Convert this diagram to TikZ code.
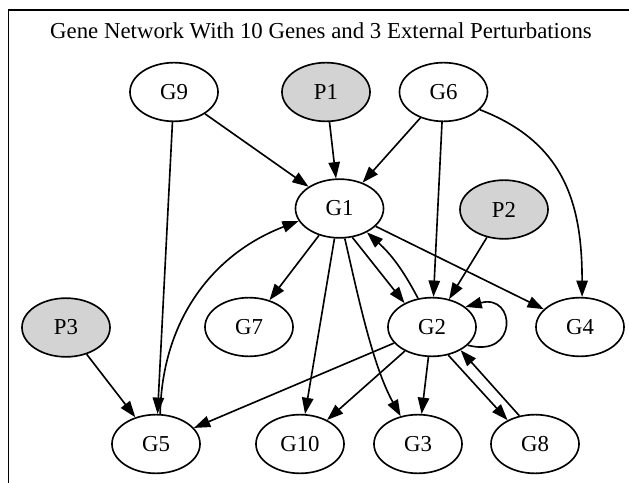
\documentclass[tikz,border=0pt]{standalone}
\usepackage{fontspec}
\setmainfont{Liberation Serif}
\usetikzlibrary{shapes.geometric,arrows.meta}
\definecolor{pgray}{HTML}{D3D3D3}
\begin{document}
\begin{tikzpicture}[x=0.6135pt,y=-0.6135pt,
  gene/.style={ellipse,draw,line width=1pt,minimum width=54pt,minimum height=36pt,inner sep=0pt,font=\fontsize{14pt}{16pt}\selectfont},
  pert/.style={gene,fill=pgray},
  arr/.style={-{Triangle[length=10pt,width=7pt]},line width=1pt},
  titlestyle/.style={font=\fontsize{14pt}{16pt}\selectfont,inner sep=0pt}]
\useasboundingbox (0,0) rectangle (629,483);
\draw[line width=1.2pt] (8.5,483) -- (8.5,10) -- (629,10);
\node[titlestyle] (title) at (321,31) {Gene Network With 10 Genes and 3 External Perturbations};
% nodes
\node[gene] (G9) at (174,92) {G9};
\node[pert] (P1) at (326,92) {P1};
\node[gene] (G6) at (443.5,92) {G6};
\node[gene] (G1) at (339.5,208.5) {G1};
\node[pert] (P2) at (504,209.5) {P2};
\node[pert] (P3) at (66,327.5) {P3};
\node[gene] (G7) at (249,327) {G7};
\node[gene] (G2) at (432,327) {G2};
\node[gene] (G4) at (580,327) {G4};
\node[gene] (G5) at (156,444) {G5};
\node[gene] (G10) at (300,444) {G10};
\node[gene] (G3) at (418,444) {G3};
\node[gene] (G8) at (535,444) {G8};
% edges
\draw[arr] (G9) -- (G1);
\draw[arr] (P1) -- (G1);
\draw[arr] (G6) -- (G1);
\draw[arr] (G9) -- (G5);
\draw[arr] (G5.82) to[out=89,in=201] (G1.197);
\draw[arr] (G6) -- (G2);
\draw[arr] (G6.-26) to[out=-21,in=90,looseness=1.1] (G4.86);
\draw[arr] (P2) -- (G2);
\draw[arr] (G1) -- (G7);
\draw[arr] (G1) -- (G10);
\draw[arr] (G1.280) to[out=283,in=119,looseness=0.8] (G3.122);
\draw[arr] (G1.-66) -- (G2.139);
\draw[arr] (G2.116) to[bend right=10] (G1.-41);
\draw[arr] (G1) -- (G4);
\draw[arr] (G2.-27) to[out=-15,in=15,looseness=3.5] (G2.31);
\draw[arr] (G2) -- (G5);
\draw[arr] (G2) -- (G10);
\draw[arr] (G2) -- (G3);
\draw[arr] (G2.-60) -- (G8.139.5);
\draw[arr] (G8.119) -- (G2.-39);
\draw[arr] (P3) -- (G5);
\end{tikzpicture}
\end{document}
